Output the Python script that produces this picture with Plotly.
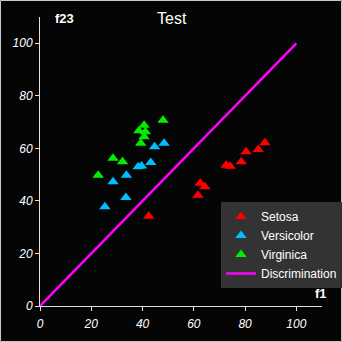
import plotly.graph_objects as go

# Discriminant scores on two feature axes for the test set
setosa_f1 = [42.4, 61.6, 62.5, 64.3, 72.6, 74.2, 78.5, 80.4, 85.1, 87.7]
setosa_f23 = [34.2, 42.2, 46.7, 45.4, 53.6, 53.2, 54.9, 58.7, 59.6, 62.1]

versicolor_f1 = [25.3, 28.5, 33.5, 33.7, 38.3, 39.6, 43.2, 44.7, 48.4]
versicolor_f23 = [37.8, 47.3, 41.3, 49.8, 53.0, 53.3, 54.6, 60.6, 61.9]

virginica_f1 = [22.7, 28.5, 32.2, 39.3, 38.6, 40.6, 41.1, 40.6, 48.0]
virginica_f23 = [49.8, 56.2, 54.9, 61.9, 66.7, 68.8, 66.3, 64.4, 70.7]

line_f1 = [0, 100]
line_f23 = [0, 100]

tick_vals = [0, 20, 40, 60, 80, 100]

FONT = "Liberation Sans, Arial, sans-serif"
W, H = 342, 342
ML, MR, MT, MB = 40, 20, 17, 36
PW, PH = W - ML - MR, H - MT - MB

fig = go.Figure()

marker_size = 10
fig.add_trace(go.Scatter(x=setosa_f1, y=setosa_f23, mode="markers", name="Setosa",
                         marker=dict(symbol="triangle-up", size=marker_size, color="#ff0000")))
fig.add_trace(go.Scatter(x=versicolor_f1, y=versicolor_f23, mode="markers", name="Versicolor",
                         marker=dict(symbol="triangle-up", size=marker_size, color="#00bfff")))
fig.add_trace(go.Scatter(x=virginica_f1, y=virginica_f23, mode="markers", name="Virginica",
                         marker=dict(symbol="triangle-up", size=marker_size, color="#00ee00")))
fig.add_trace(go.Scatter(x=line_f1, y=line_f23, mode="lines", name="Discrimination",
                         line=dict(color="#ff00ff", width=2.5)))

axis_common = dict(
    range=[0, 110],
    tickvals=tick_vals,
    showgrid=False,
    zeroline=False,
    showline=True,
    linecolor="#e0e0e0",
    linewidth=1,
    ticks="outside",
    ticklen=4,
    tickcolor="#e0e0e0",
    automargin=False,
    tickfont=dict(family=FONT, size=12, color="white", style="italic"),
)

fig.update_xaxes(**axis_common, ticklabelstandoff=3)
fig.update_yaxes(**axis_common)

def px_x(p):
    return (p - ML) / PW

def px_y(p):
    return (H - MB - p) / PH

fig.update_layout(
    width=W, height=H,
    margin=dict(l=ML, r=MR, t=MT, b=MB, pad=0, autoexpand=False),
    paper_bgcolor="#050505",
    plot_bgcolor="#050505",
    showlegend=True,
    legend=dict(
        xref="container", yref="container",
        x=221 / W, y=1 - 202 / H, xanchor="left", yanchor="top",
        bgcolor="#333333",
        font=dict(family=FONT, size=12, color="white"),
        tracegroupgap=0,
    ),
    annotations=[
        dict(text="Test", x=px_x(172), y=px_y(18), xref="paper", yref="paper",
             showarrow=False, font=dict(family=FONT, size=16, color="white"),
             xanchor="center", yanchor="middle"),
        dict(text="<b>f23</b>", x=px_x(64), y=px_y(18), xref="paper", yref="paper",
             showarrow=False, font=dict(family=FONT, size=13, color="white"),
             xanchor="center", yanchor="middle"),
        dict(text="<b>f1</b>", x=px_x(321), y=px_y(293), xref="paper", yref="paper",
             showarrow=False, font=dict(family=FONT, size=13, color="white"),
             xanchor="center", yanchor="middle"),
    ],
    shapes=[
        dict(type="rect", xref="paper", yref="paper",
             x0=px_x(0.5), x1=px_x(W - 0.5), y0=px_y(H - 0.5), y1=px_y(0.5),
             line=dict(color="#c8c8c8", width=1), layer="above"),
    ],
)

fig.write_html("out.html")
